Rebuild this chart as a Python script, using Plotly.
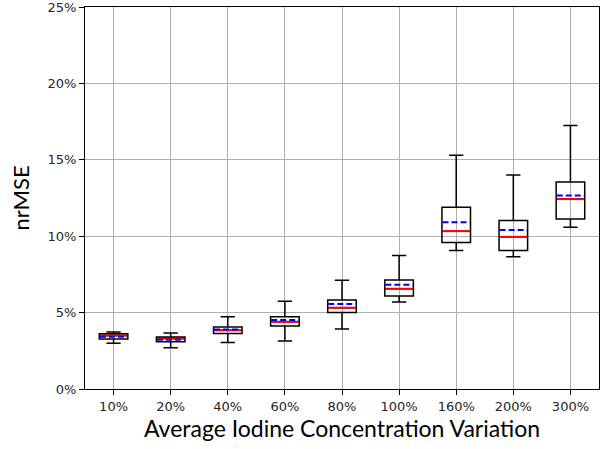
import plotly.graph_objects as go

categories = ["10%", "20%", "40%", "60%", "80%", "100%", "160%", "200%", "300%"]
lower_whisker = [2.99, 2.70, 3.05, 3.14, 3.92, 5.69, 9.07, 8.65, 10.58]
q1 = [3.27, 3.09, 3.64, 4.12, 5.01, 6.08, 9.59, 9.07, 11.12]
median = [3.50, 3.30, 3.84, 4.40, 5.32, 6.56, 10.33, 9.96, 12.43]
mean = [3.42, 3.22, 3.90, 4.51, 5.56, 6.82, 10.92, 10.40, 12.67]
q3 = [3.62, 3.40, 4.05, 4.73, 5.82, 7.13, 11.90, 11.03, 13.54]
upper_whisker = [3.73, 3.66, 4.73, 5.75, 7.11, 8.74, 15.30, 14.00, 17.24]
y_ticks = [0, 5, 10, 15, 20, 25]

positions = list(range(1, len(categories) + 1))
box_w = 0.5

fig = go.Figure()
fig.add_trace(go.Box(
    x=positions, q1=q1, median=median, q3=q3,
    lowerfence=lower_whisker, upperfence=upper_whisker,
    width=box_w, whiskerwidth=0.5,
    fillcolor="rgba(0,0,0,0)",
    line=dict(color="black", width=1.5),
    boxpoints=False, showlegend=False, hoverinfo="skip",
))

def segs(vals):
    xs, ys = [], []
    for p, v in zip(positions, vals):
        xs += [p - box_w / 2 + 0.01, p + box_w / 2 - 0.01, None]
        ys += [v, v, None]
    return xs, ys

mx, my = segs(median)
fig.add_trace(go.Scatter(x=mx, y=my, mode="lines",
                         line=dict(color="red", width=2),
                         showlegend=False, hoverinfo="skip"))
ax, ay = segs(mean)
fig.add_trace(go.Scatter(x=ax, y=ay, mode="lines",
                         line=dict(color="blue", width=2, dash="6px,3px"),
                         showlegend=False, hoverinfo="skip"))

tick_font = dict(family="DejaVu Sans", size=13, color="#262626")

fig.update_layout(
    width=608, height=449,
    margin=dict(l=85, r=9, t=7, b=60, autoexpand=False),
    plot_bgcolor="white", paper_bgcolor="white",
    xaxis=dict(
        range=[0.5, 9.5], tickmode="array", tickvals=positions, ticktext=categories,
        showgrid=True, gridcolor="#b0b0b0", gridwidth=1,
        showline=True, linecolor="black", linewidth=1.2, mirror=True,
        ticks="outside", ticklen=5, tickcolor="black", tickwidth=1,
        tickfont=tick_font, zeroline=False, automargin=False,
        title=dict(text="Average Iodine Concentration Variation",
                   font=dict(family="Lato", size=23, color="black"), standoff=7),
    ),
    yaxis=dict(
        range=[0, 25.001], tickmode="array", tickvals=y_ticks,
        ticktext=[f"{t}%" for t in y_ticks],
        showgrid=True, gridcolor="#b0b0b0", gridwidth=1,
        showline=True, linecolor="black", linewidth=1.2, mirror=True,
        ticks="outside", ticklen=5, tickcolor="black", tickwidth=1,
        tickfont=tick_font, zeroline=False, ticklabeloverflow="allow",
        automargin=False,
        title=dict(text="nrMSE", font=dict(family="Lato", size=22, color="black"), standoff=11),
    ),
)

fig.write_html("out.html")
